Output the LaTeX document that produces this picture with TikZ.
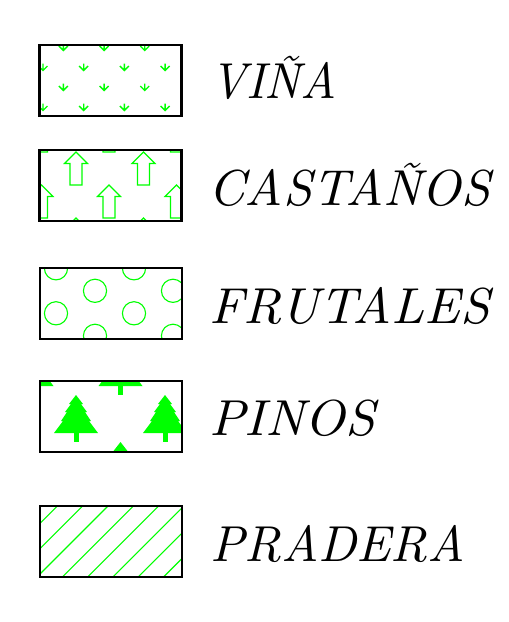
\documentclass[tikz,border=0pt]{standalone}
\usepackage{graphicx}
\definecolor{vg}{RGB}{0,255,0}
\tikzset{
  legbox/.style={draw=black, line width=2.4pt, minimum width=142pt, minimum height=71pt,
    inner sep=0pt, outer sep=0pt, anchor=north west},
  pat/.style={draw=vg, line width=1.1pt},
  lab/.style={anchor=base west, inner sep=0pt, outer sep=0pt, font=\normalsize},
}
\newcommand{\biglab}[2]{\scalebox{#1}[5.05]{\textit{#2}}}
\begin{document}
\begin{tikzpicture}[x=1pt,y=-1pt]
\useasboundingbox (0,0) rectangle (509,622);

% ---------- VIÑA ----------
\node[legbox] (b1) at (39.5,45) {};
\begin{scope}
\clip (b1.south west) rectangle (b1.north east);
\foreach \r in {-1,...,4}{
  \foreach \c in {-1,...,4}{
    \pgfmathsetmacro\xx{43+40.7*\c+20.35*(1-mod(\r+2,2))}
    \pgfmathsetmacro\yy{47+20*\r}
    \draw[pat, line width=1.4pt] (\xx,\yy-3.5) -- (\xx,\yy+3.5) (\xx-4.5,\yy-1) -- (\xx,\yy+3.5) -- (\xx+4.5,\yy-1);
  }
}
\end{scope}
\node[legbox] at (39.5,45) {};
\node[lab] (t1) at (210,98) {\biglab{4.85}{VI\~NA}};

% ---------- CASTAÑOS ----------
\node[legbox] (b2) at (39.5,150) {};
\begin{scope}
\clip (b2.south west) rectangle (b2.north east);
\foreach \by/\bx in {119/109, 152/76, 185/109, 218/76}{
  \foreach \c in {-2,...,2}{
    \pgfmathsetmacro\ax{\bx+67.5*\c}
    \draw[pat] (\ax,\by) -- (\ax+11.5,\by+11.5) -- (\ax+6,\by+11.5) -- (\ax+6,\by+33)
      -- (\ax-6,\by+33) -- (\ax-6,\by+11.5) -- (\ax-11.5,\by+11.5) -- cycle;
  }
}
\end{scope}
\node[legbox] at (39.5,150) {};
\node[lab] (t2) at (208,205) {\biglab{5.15}{CASTA\~NOS}};

% ---------- FRUTALES ----------
\node[legbox] (b3) at (40,268) {};
\begin{scope}
\clip (b3.south west) rectangle (b3.north east);
\foreach \cy/\cx in {245.8/95, 268.3/56, 290.8/95, 313.3/56, 335.8/95, 358.3/56}{
  \foreach \c in {-1,...,2}{
    \draw[pat] (\cx+78*\c,\cy) circle[radius=11.6];
  }
}
\end{scope}
\node[legbox] at (40,268) {};
\node[lab] (t3) at (209,323) {\biglab{5.25}{FRUTALES}};

% ---------- PINOS ----------
\node[legbox] (b4) at (40,381) {};
\begin{scope}
\clip (b4.south west) rectangle (b4.north east);
\foreach \ty/\tx in {348/31.5, 395/76, 442/31.5}{
  \foreach \c in {-1,...,2}{
    \pgfmathsetmacro\ax{\tx+89*\c}
    \fill[vg] (\ax,\ty) -- (\ax+7,\ty+9) -- (\ax+5,\ty+9) -- (\ax+11,\ty+17) -- (\ax+9,\ty+17)
      -- (\ax+15,\ty+26) -- (\ax+13,\ty+26) -- (\ax+22,\ty+38)
      -- (\ax-22,\ty+38) -- (\ax-13,\ty+26) -- (\ax-15,\ty+26) -- (\ax-9,\ty+17)
      -- (\ax-11,\ty+17) -- (\ax-5,\ty+9) -- (\ax-7,\ty+9) -- cycle;
    \fill[vg] (\ax-2.5,\ty+37) rectangle (\ax+2.5,\ty+47);
  }
}
\end{scope}
\node[legbox] at (40,381) {};
\node[lab] (t4) at (209,435) {\biglab{5.3}{PINOS}};

% ---------- PRADERA ----------
\node[legbox] (b5) at (40,506) {};
\begin{scope}
\clip (b5.south west) rectangle (b5.north east);
\foreach \k in {-4,...,6}{
  \pgfmathsetmacro\cc{614+25.3*\k}
  \draw[pat] (\cc-600,600) -- (\cc-480,480);
}
\end{scope}
\node[legbox] at (40,506) {};
\node[lab] (t5) at (210,561) {\biglab{5.05}{PRADERA}};
\end{tikzpicture}
\end{document}
